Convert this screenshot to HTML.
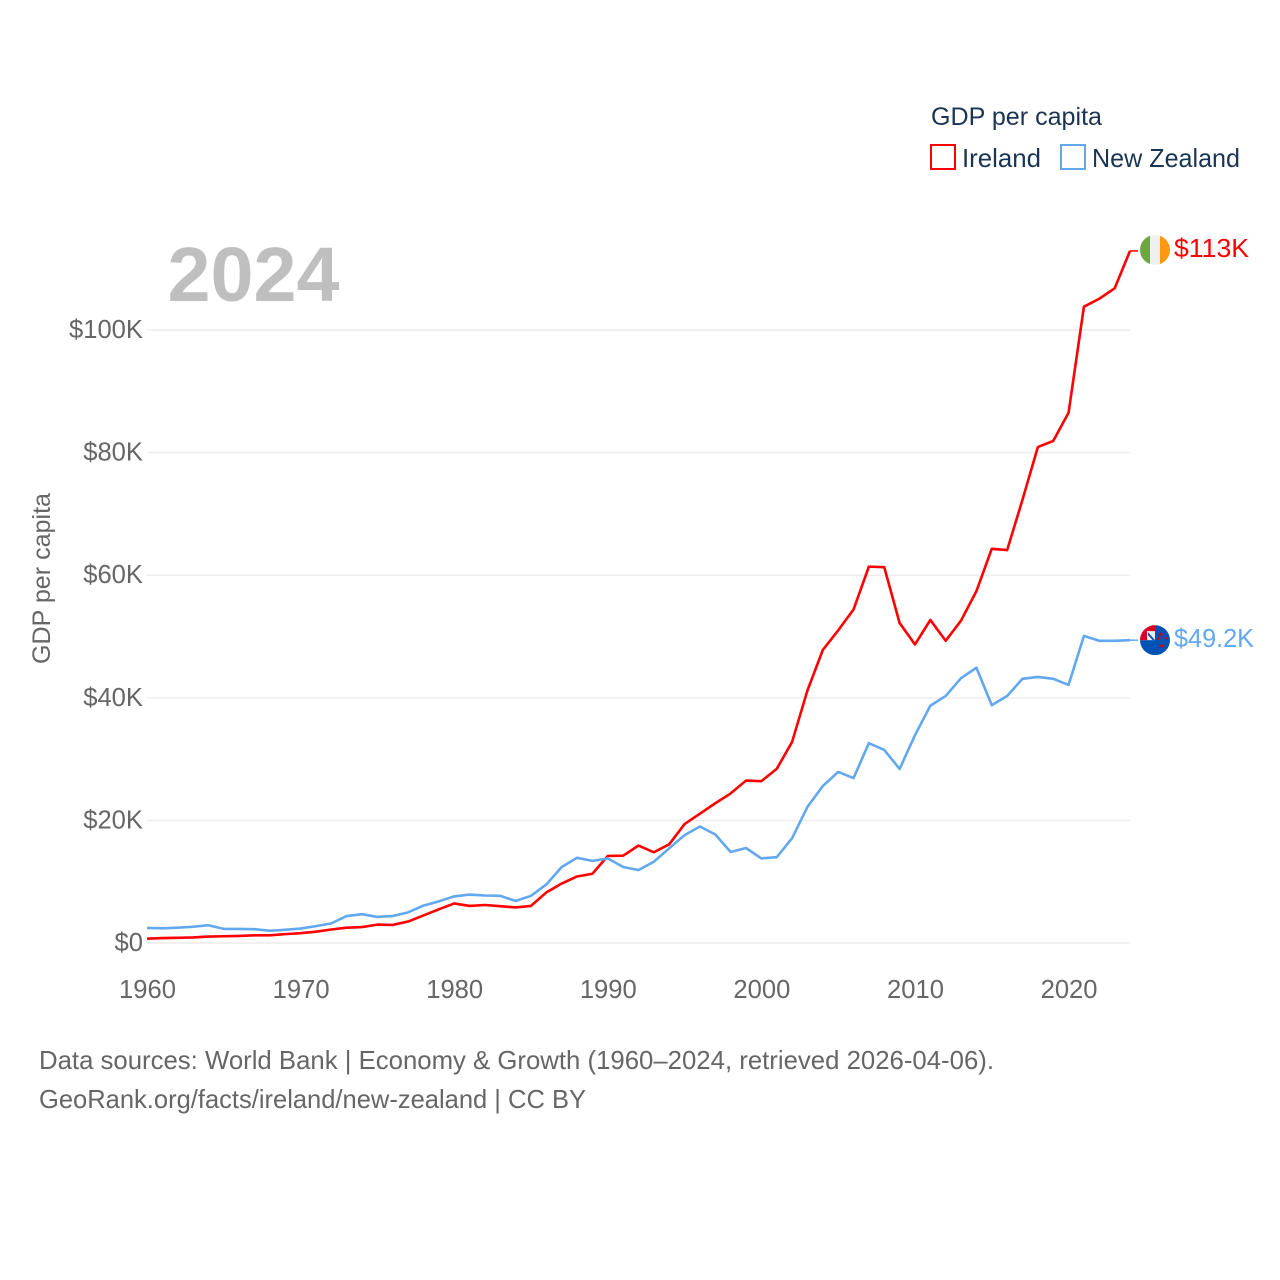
<!DOCTYPE html>
<html lang="en">
<head>
<meta charset="utf-8">
<title>GDP per capita: Ireland and New Zealand</title>
<style>
html,body{margin:0;padding:0;background:#fff;width:1280px;height:1280px;overflow:hidden}
svg{display:block;font-family:"Liberation Sans",sans-serif}
</style>
</head>
<body>
<svg id="chart" width="1280" height="1280" viewBox="0 0 1280 1280" xmlns="http://www.w3.org/2000/svg">
  <defs>
    <clipPath id="flag-clip"><circle cx="0" cy="0" r="15"/></clipPath>
  </defs>
  <rect width="1280" height="1280" fill="#fff"/>
  <g id="grid"></g>
  <g id="ticks"></g>
  <text x="167.5" y="301" font-size="77" font-weight="700" fill="#bfbfbf" textLength="172" lengthAdjust="spacingAndGlyphs">2024</text>
  <text transform="translate(50,664) rotate(-90)" font-size="25" fill="#666" textLength="171" lengthAdjust="spacingAndGlyphs">GDP per capita</text>
  <g id="series"></g>
  <g id="flag-ireland" clip-path="url(#flag-clip)">
    <rect x="-15" y="-15" width="10" height="30" fill="#6da544"/>
    <rect x="-5" y="-15" width="10" height="30" fill="#f0f0f0"/>
    <rect x="5" y="-15" width="10" height="30" fill="#ff9811"/>
  </g>
  <g id="flag-nz" clip-path="url(#flag-clip)">
    <rect x="-15" y="-15" width="30" height="30" fill="#0052b4"/>
    <rect x="-15" y="-15" width="15" height="15" fill="#f0f0f0"/>
    <path d="M-15-15H0V-9H-8V0H-15z" fill="#d80027"/>
    <path d="M-7-8L0 0H-2.5L-7-5z" fill="#0052b4"/>
    <circle cx="6" cy="-6" r="1.6" fill="#d80027"/>
    <circle cx="3.7" cy="-1.7" r="1.6" fill="#d80027"/>
    <circle cx="11" cy="-2" r="1.3" fill="#d80027"/>
    <circle cx="7" cy="5.7" r="1.8" fill="#d80027"/>
  </g>
  <g>
    <text x="931" y="125" font-size="25" fill="#1a3453" textLength="171" lengthAdjust="spacingAndGlyphs">GDP per capita</text>
    <g>
      <rect x="931" y="145" width="24" height="24" fill="#fff" stroke="#ff0000" stroke-width="2"/>
      <text x="962" y="167" font-size="26" fill="#1a3453" textLength="79" lengthAdjust="spacingAndGlyphs">Ireland</text>
    </g>
    <g>
      <rect x="1061" y="145" width="24" height="24" fill="#fff" stroke="#62a8ee" stroke-width="2"/>
      <text x="1092" y="167" font-size="26" fill="#1a3453" textLength="148" lengthAdjust="spacingAndGlyphs">New Zealand</text>
    </g>
  </g>
  <text x="39" y="1069" font-size="25.6" fill="#666" textLength="955" lengthAdjust="spacingAndGlyphs">Data sources: World Bank | Economy &amp; Growth (1960–2024, retrieved 2026-04-06).</text>
  <text x="39" y="1108" font-size="25.6" fill="#666" textLength="547" lengthAdjust="spacingAndGlyphs">GeoRank.org/facts/ireland/new-zealand | CC BY</text>
</svg>
<script>
const startYear = 1960;
const endYear = 2024;
const xTickYears = [1960, 1970, 1980, 1990, 2000, 2010, 2020];
const xTickLabels = ["1960", "1970", "1980", "1990", "2000", "2010", "2020"];
const yTickValues = [0, 20, 40, 60, 80, 100];
const yTickLabels = ["$0", "$20K", "$40K", "$60K", "$80K", "$100K"];
const irelandValues = [0.7, 0.8, 0.85, 0.9, 1.05, 1.1, 1.15, 1.25, 1.25, 1.45, 1.6, 1.85, 2.2, 2.5, 2.6, 3.0, 2.95, 3.5, 4.5, 5.5, 6.45, 6.05, 6.2, 6.0, 5.8, 6.05, 8.25, 9.7, 10.85, 11.3, 14.2, 14.25, 15.9, 14.8, 16.1, 19.4, 21.1, 22.8, 24.4, 26.5, 26.4, 28.4, 32.8, 41.2, 47.8, 51.0, 54.4, 61.4, 61.3, 52.2, 48.7, 52.7, 49.3, 52.6, 57.4, 64.3, 64.1, 72.3, 80.9, 81.9, 86.5, 103.8, 105.1, 106.8, 112.9];
const newZealandValues = [2.45, 2.4, 2.5, 2.65, 2.9, 2.3, 2.3, 2.25, 2.0, 2.15, 2.35, 2.75, 3.2, 4.4, 4.7, 4.25, 4.4, 5.0, 6.1, 6.8, 7.6, 7.9, 7.75, 7.7, 6.85, 7.7, 9.55, 12.4, 13.9, 13.4, 13.8, 12.4, 11.9, 13.25, 15.45, 17.6, 19.0, 17.7, 14.85, 15.5, 13.8, 14.0, 17.1, 22.2, 25.6, 27.9, 26.9, 32.6, 31.5, 28.4, 33.9, 38.7, 40.3, 43.2, 44.9, 38.8, 40.3, 43.1, 43.4, 43.1, 42.1, 50.1, 49.3, 49.3, 49.4];
const irelandEndLabel = "$113K";
const newZealandEndLabel = "$49.2K";

const NS = "http://www.w3.org/2000/svg";
const plot = { left: 147, right: 1130, zero: 943, top: 330 };
function xScale(year) {
  return plot.left + (year - startYear) * (plot.right - plot.left) / (endYear - startYear);
}
function yScale(value) {
  return plot.zero - value * (plot.zero - plot.top) / 100;
}
function make(tag, attrs, parent) {
  const el = document.createElementNS(NS, tag);
  for (const key in attrs) el.setAttribute(key, attrs[key]);
  parent.appendChild(el);
  return el;
}
const grid = document.getElementById("grid");
const ticks = document.getElementById("ticks");
const series = document.getElementById("series");
const svg = document.getElementById("chart");

yTickValues.forEach(function (v, i) {
  const line = make("line", { x1: plot.left, x2: plot.right, y1: yScale(v), y2: yScale(v), stroke: "#ececec", "stroke-width": 1.4 }, grid);
  
  
  const label = make("text", { x: 143, y: yScale(v) + 8, "text-anchor": "end", "font-size": 25.6, fill: "#666" }, ticks);
  label.textContent = yTickLabels[i];
  
  
});
xTickYears.forEach(function (year, i) {
  const label = make("text", { x: xScale(year) + 0.5, y: 998, "text-anchor": "middle", "font-size": 25.6, fill: "#666" }, ticks);
  label.textContent = xTickLabels[i];
  
  
});
function drawSeries(values, color, name) {
  const pts = values.map(function (v, i) {
    return xScale(startYear + i).toFixed(2) + "," + yScale(v).toFixed(2);
  }).join(" ");
  const line = make("polyline", { points: pts, fill: "none", stroke: color, "stroke-width": 2.6, "stroke-linejoin": "round" }, series);
  
  
  const endY = yScale(values[values.length - 1]);
  const leader = make("line", { x1: plot.right, x2: plot.right + 8, y1: endY, y2: endY, stroke: color, "stroke-width": 1.5 }, series);
  
  
  return endY;
}
const irelandY = drawSeries(irelandValues, "#ff0000", "ireland-line");
const nzY = drawSeries(newZealandValues, "#62a8ee", "new-zealand-line");
document.getElementById("flag-ireland").setAttribute("transform", "translate(1155," + (irelandY - 1) + ")");
document.getElementById("flag-nz").setAttribute("transform", "translate(1155," + nzY + ")");
const irelandLabel = make("text", { x: 1174, y: irelandY + 6, "font-size": 25.6, fill: "#ff0000", textLength: 75, lengthAdjust: "spacingAndGlyphs" }, svg);
irelandLabel.textContent = irelandEndLabel;


const nzLabel = make("text", { x: 1174, y: nzY + 7, "font-size": 25.6, fill: "#62a8ee", textLength: 80, lengthAdjust: "spacingAndGlyphs" }, svg);
nzLabel.textContent = newZealandEndLabel;


</script>
</body>
</html>
